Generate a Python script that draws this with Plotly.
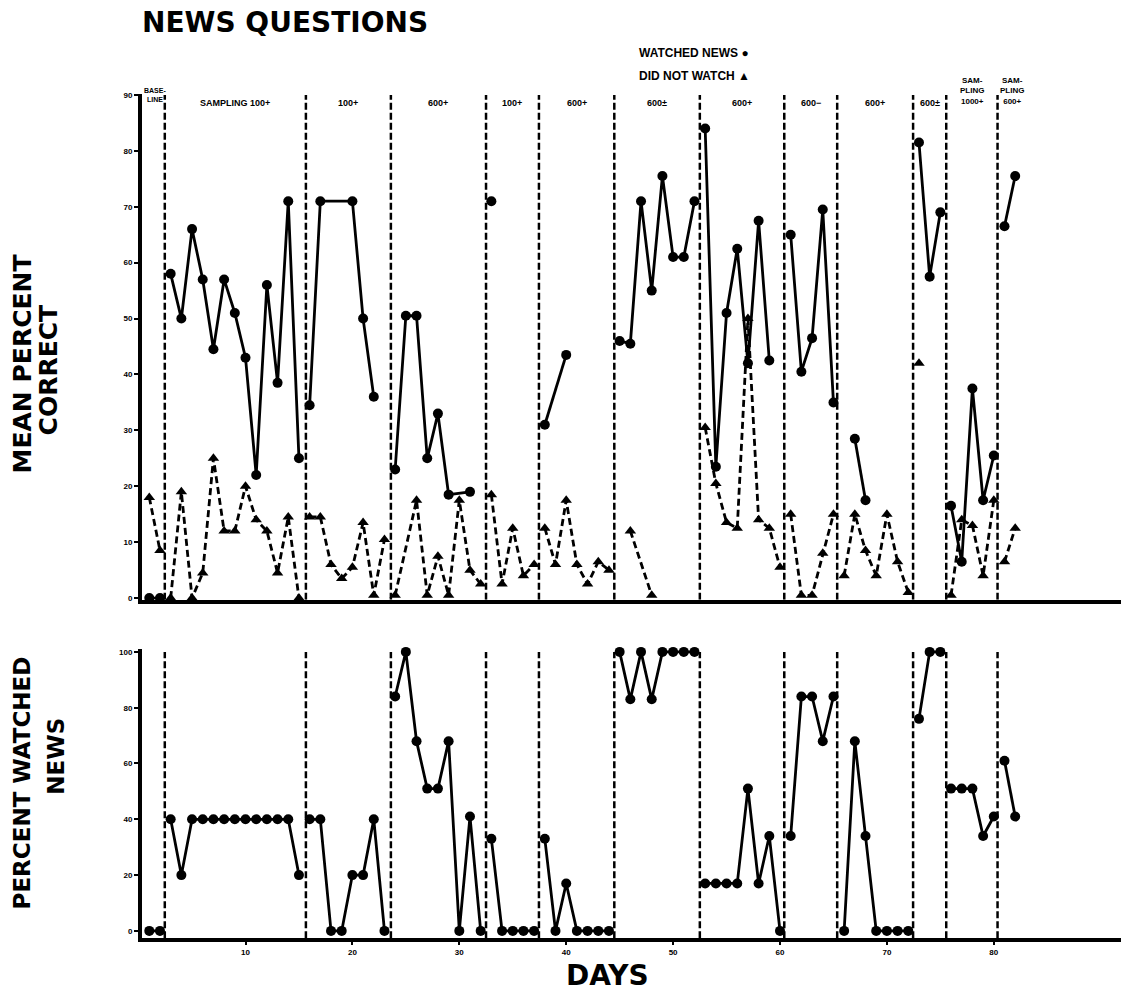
import plotly.graph_objects as go

W, H = 1121, 991

# ---------------- data ----------------
days = list(range(1, 83))

# bottom panel: percent of students who watched the news
watched_pct = [0, 0,
               40, 20, 40, 40, 40, 40, 40, 40, 40, 40, 40, 40, 20,
               40, 40, 0, 0, 20, 20, 40, 0,
               84, 100, 68, 51, 51, 68, 0, 41, 0,
               33, 0, 0, 0, 0,
               33, 0, 17, 0, 0, 0, 0,
               100, 83, 100, 83, 100, 100, 100, 100,
               17, 17, 17, 17, 51, 17, 34, 0,
               34, 84, 84, 68, 84,
               0, 68, 34, 0, 0, 0, 0,
               76, 100, 100,
               51, 51, 51, 34, 41,
               61, 41]

# top panel: mean percent correct, students who watched the news
score_watched = [0, 0,
                 58, 50, 66, 57, 44.5, 57, 51, 43, 22, 56, 38.5, 71, 25,
                 34.5, 71, None, None, 71, 50, 36, None,
                 23, 50.5, 50.5, 25, 33, 18.5, None, 19, None,
                 71, None, None, None, None,
                 31, None, 43.5, None, None, None, None,
                 46, 45.5, 71, 55, 75.5, 61, 61, 71,
                 84, 23.5, 51, 62.5, 42, 67.5, 42.5, None,
                 65, 40.5, 46.5, 69.5, 35,
                 None, 28.5, 17.5, None, None, None, None,
                 81.5, 57.5, 69,
                 16.5, 6.5, 37.5, 17.5, 25.5,
                 66.5, 75.5]

# top panel: mean percent correct, students who did not watch
score_not_watched = [18, 8.5,
                     0, 19, 0, 4.5, 25, 12, 12, 20, 14, 12, 4.5, 14.5, 0,
                     14.5, 14.5, 6, 3.5, 5.5, 13.5, 0.5, 10.5,
                     0.5, None, 17.5, 0.5, 7.5, 0.5, 17.5, 5, 2.5,
                     18.5, 2.5, 12.5, 4, 6,
                     12.5, 6, 17.5, 6, 2.5, 6.5, 5,
                     None, 12, None, 0.5, None, None, None, None,
                     30.5, 20.5, 13.5, 12.5, 50, 14, 12.5, 5.5,
                     15, 0.5, 0.5, 8, 15,
                     4, 15, 8.5, 4, 15, 6.5, 1,
                     42, None, None,
                     0.5, 14, 13, 4, 17.5,
                     6.5, 12.5]

phase_bounds = [2.45, 15.65, 23.6, 32.5, 37.45, 44.5, 52.5, 60.4, 65.35, 72.45, 75.55, 80.35]
phase_labels = ["BASE-<br>LINE", "SAMPLING 100+", "100+", "600+", "100+", "600+", "600±",
                "600+", "600−", "600+", "600±", "SAM-<br>PLING<br>1000+", "SAM-<br>PLING<br>600+"]
x_ticks = [10, 20, 30, 40, 50, 60, 70, 80]
top_ticks = [0, 10, 20, 30, 40, 50, 60, 70, 80, 90]
bottom_ticks = [0, 20, 40, 60, 80, 100]

# ---------------- geometry helpers ----------------
X0_PX, XS = 138.6, 10.69          # pixel of day 0, pixels per day
TOP_Y0, TOP_S = 598.3, 5.63       # pixel of 0 %, pixels per unit (top panel)
BOT_Y0, BOT_S = 933.5, 2.81       # bottom panel


def py(px):
    return 1 - px / H


def px_x(px):
    return px / W


left_px, right_px = 142, W
top_dom = (600, 91)
bot_dom = (941, 650)
xrange_ = [(left_px - X0_PX) / XS, (right_px - X0_PX) / XS]
top_range = [(TOP_Y0 - top_dom[0]) / TOP_S, (TOP_Y0 - top_dom[1]) / TOP_S]
bot_range = [(BOT_Y0 - bot_dom[0]) / BOT_S, (BOT_Y0 - bot_dom[1]) / BOT_S]

edges = [0] + phase_bounds + [200]


def segmented(values):
    xs, ys = [], []
    for i in range(len(edges) - 1):
        seg = [(d, v) for d, v in zip(days, values)
               if edges[i] < d < edges[i + 1] and v is not None]
        if not seg:
            continue
        if xs:
            xs.append(None)
            ys.append(None)
        for d, v in seg:
            xs.append(d)
            ys.append(v)
    return xs, ys


fig = go.Figure()

x1, y1 = segmented(score_watched)
fig.add_trace(go.Scatter(x=x1, y=y1, xaxis="x2", yaxis="y", mode="lines+markers",
                         line=dict(color="black", width=2.8),
                         marker=dict(symbol="circle", size=10, color="black"),
                         connectgaps=False, cliponaxis=False, showlegend=False))
x2, y2 = segmented(score_not_watched)
fig.add_trace(go.Scatter(x=x2, y=y2, xaxis="x2", yaxis="y", mode="lines+markers",
                         line=dict(color="black", width=2.8, dash="7px,4px"),
                         marker=dict(symbol="triangle-up", size=10, color="black"),
                         connectgaps=False, cliponaxis=False, showlegend=False))
x3, y3 = segmented(watched_pct)
fig.add_trace(go.Scatter(x=x3, y=y3, xaxis="x", yaxis="y2", mode="lines+markers",
                         line=dict(color="black", width=2.8),
                         marker=dict(symbol="circle", size=10, color="black"),
                         connectgaps=False, cliponaxis=False, showlegend=False))

shapes = []
for b in phase_bounds:
    shapes.append(dict(type="line", xref="x2", yref="y", x0=b, x1=b, y0=top_range[0], y1=90,
                       line=dict(color="black", width=2.5, dash="7px,3px")))
    shapes.append(dict(type="line", xref="x", yref="y2", x0=b, x1=b, y0=bot_range[0], y1=100,
                       line=dict(color="black", width=2.5, dash="7px,3px")))

tickfont = dict(family="Liberation Sans", size=8, color="black", weight="bold")
axis_common = dict(showgrid=False, zeroline=False, showline=True, linecolor="black",
                   linewidth=4, ticks="outside", tickcolor="black", tickwidth=2,
                   tickfont=tickfont)

annotations = []
# phase labels
for i, lab in enumerate(phase_labels):
    right_edge = edges[i + 1] if i + 1 < len(edges) - 1 else 83
    mid = (edges[i] + right_edge) / 2
    if i == 0:
        annotations.append(dict(x=1.5, y=py(82), xref="x", yref="paper", text=lab,
                                showarrow=False, xanchor="center", yanchor="top",
                                font=dict(family="Liberation Sans", size=7, color="black", weight="bold")))
    elif "<br>" in lab:
        annotations.append(dict(x=mid, y=py(105), xref="x", yref="paper", text=lab,
                                showarrow=False, xanchor="center", yanchor="bottom",
                                font=dict(family="Liberation Sans", size=8, color="black", weight="bold")))
    else:
        annotations.append(dict(x=mid, y=py(100), xref="x", yref="paper", text=lab,
                                showarrow=False, xanchor="center", yanchor="middle",
                                font=dict(family="Liberation Sans", size=9, color="black", weight="bold")))

big = dict(family="DejaVu Sans", color="black", weight="bold")
annotations += [
    dict(x=px_x(140), y=py(19), xref="paper", yref="paper", text="NEWS QUESTIONS",
         showarrow=False, xanchor="left", yanchor="middle", font=dict(size=28, **big)),
    dict(x=px_x(637), y=py(49), xref="paper", yref="paper", text="WATCHED NEWS ●",
         showarrow=False, xanchor="left", yanchor="middle",
         font=dict(family="Liberation Sans", size=12, color="black", weight="bold")),
    dict(x=px_x(637), y=py(73), xref="paper", yref="paper", text="DID NOT WATCH ▲",
         showarrow=False, xanchor="left", yanchor="middle",
         font=dict(family="Liberation Sans", size=12, color="black", weight="bold")),
    dict(x=px_x(22), y=py(363), xref="paper", yref="paper", text="MEAN PERCENT",
         showarrow=False, textangle=-90, xanchor="center", yanchor="middle",
         font=dict(size=25, **big)),
    dict(x=px_x(48), y=py(368), xref="paper", yref="paper", text="CORRECT",
         showarrow=False, textangle=-90, xanchor="center", yanchor="middle",
         font=dict(size=25, **big)),
    dict(x=px_x(22), y=py(785), xref="paper", yref="paper", text="PERCENT WATCHED",
         showarrow=False, textangle=-90, xanchor="center", yanchor="middle",
         font=dict(size=23, **big)),
    dict(x=px_x(56), y=py(758), xref="paper", yref="paper", text="NEWS",
         showarrow=False, textangle=-90, xanchor="center", yanchor="middle",
         font=dict(size=23, **big)),
    dict(x=px_x(607), y=py(978), xref="paper", yref="paper", text="DAYS",
         showarrow=False, xanchor="center", yanchor="middle",
         font=dict(size=28, **big)),
]

fig.update_layout(
    width=W, height=H,
    margin=dict(l=0, r=0, t=0, b=0),
    paper_bgcolor="white", plot_bgcolor="white",
    showlegend=False,
    xaxis=dict(domain=[px_x(left_px), 1], range=xrange_, anchor="y2",
               tickmode="array", tickvals=x_ticks, ticklen=3, **axis_common),
    xaxis2=dict(domain=[px_x(left_px), 1], range=xrange_, anchor="y", matches="x",
                showticklabels=False, **{k: v for k, v in axis_common.items() if k != "ticks"},
                ticks=""),
    yaxis=dict(domain=[py(top_dom[0]), py(top_dom[1])], range=top_range, anchor="x2",
               tickmode="array", tickvals=top_ticks, ticklen=4, **axis_common),
    yaxis2=dict(domain=[py(bot_dom[0]), py(bot_dom[1])], range=bot_range, anchor="x",
                tickmode="array", tickvals=bottom_ticks, ticklen=4, **axis_common),
    shapes=shapes,
    annotations=annotations,
)

fig.write_html("out.html")
